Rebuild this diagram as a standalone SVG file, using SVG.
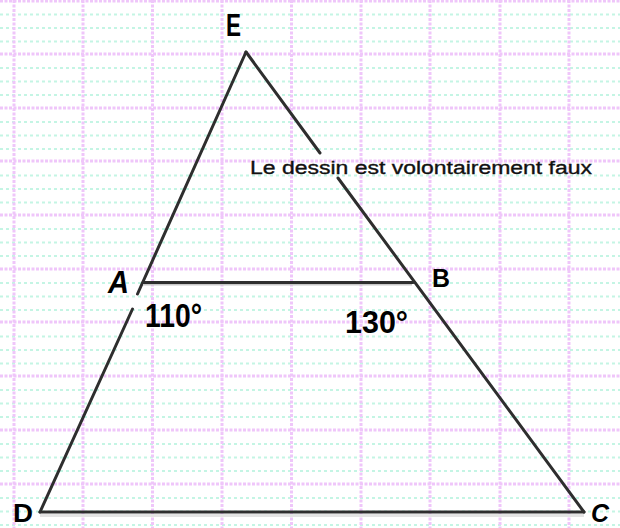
<svg xmlns="http://www.w3.org/2000/svg" width="620" height="528" viewBox="0 0 620 528">
<style>
.pk{stroke:#efc6fa;stroke-width:3;stroke-dasharray:3 1.5;fill:none}
.gr{stroke:#c4f5e4;stroke-width:2;stroke-dasharray:3 3;fill:none}
.ln{stroke:#2e2e2e;stroke-width:3;stroke-linecap:round;fill:none}
.lbl{font-family:"Liberation Sans",Arial,sans-serif;font-weight:bold;fill:#000}
.note{font-family:"Liberation Sans",Arial,sans-serif;font-size:18px;fill:#111;stroke:#111;stroke-width:0.35}
</style>
<rect width="620" height="528" fill="#ffffff"/>
<g id="grid">
<g id="green-lines">
<path class="gr" d="M0 14.5H620M0 28H620M0 41.5H620M0 68H620M0 81.5H620M0 95H620M0 122H620M0 135.5H620M0 149H620M0 175.5H620M0 189H620M0 202.5H620M0 229H620M0 242.5H620M0 256H620M0 283H620M0 296.5H620M0 310H620M0 336.5H620M0 350H620M0 363.5H620M0 390H620M0 403.5H620M0 417H620M0 444H620M0 457.5H620M0 471H620M0 498H620M0 511.5H620M0 525H620"/>
</g>
<g id="pink-lines">
<path class="pk" d="M0 1H620M0 54H620M0 108H620M0 161H620M0 215H620M0 269H620M0 322H620M0 376H620M0 430H620M0 484H620"/>
<path class="pk" d="M14 0V528M83 0V528M152.5 0V528M222 0V528M291.5 0V528M361 0V528M430 0V528M500 0V528M569 0V528"/>
</g>
</g>
<g id="figure">
<line x1="40" y1="515.5" x2="584" y2="515.5" stroke="#e4e4e4" stroke-width="3"/>
<line class="ln" x1="40" y1="512" x2="584" y2="512"/>
<line class="ln" x1="246" y1="52" x2="137.5" y2="294"/>
<line class="ln" x1="132.5" y1="309" x2="40" y2="512"/>
<line class="ln" x1="246" y1="52" x2="320" y2="153"/>
<line class="ln" x1="338" y1="178" x2="584" y2="512"/>
<line x1="143" y1="284.5" x2="412" y2="284.5" stroke="#c8c8c8" stroke-width="2"/>
<line class="ln" x1="143" y1="282.5" x2="413" y2="282.5" stroke="#3a3a3a"/>
</g>
<g id="labels">
<text id="label-E" class="lbl" x="226" y="36" font-size="31" textLength="15" lengthAdjust="spacingAndGlyphs">E</text>
<text id="label-A" class="lbl" x="108" y="293" font-size="31" font-style="italic" textLength="21" lengthAdjust="spacingAndGlyphs">A</text>
<text id="label-B" class="lbl" x="432" y="287" font-size="26" textLength="18" lengthAdjust="spacingAndGlyphs">B</text>
<text id="label-D" class="lbl" x="13" y="522" font-size="25" textLength="20" lengthAdjust="spacingAndGlyphs">D</text>
<text id="label-C" class="lbl" x="591" y="522" font-size="25" font-style="italic" textLength="18" lengthAdjust="spacingAndGlyphs">C</text>
<text id="angle-A" class="lbl" x="145" y="327" font-size="33" textLength="57" lengthAdjust="spacingAndGlyphs">110°</text>
<text id="angle-B" class="lbl" x="345" y="333" font-size="31" textLength="63" lengthAdjust="spacingAndGlyphs">130°</text>
<text id="note" class="note" x="250" y="174" textLength="342" lengthAdjust="spacingAndGlyphs">Le dessin est volontairement faux</text>
</g>
</svg>
